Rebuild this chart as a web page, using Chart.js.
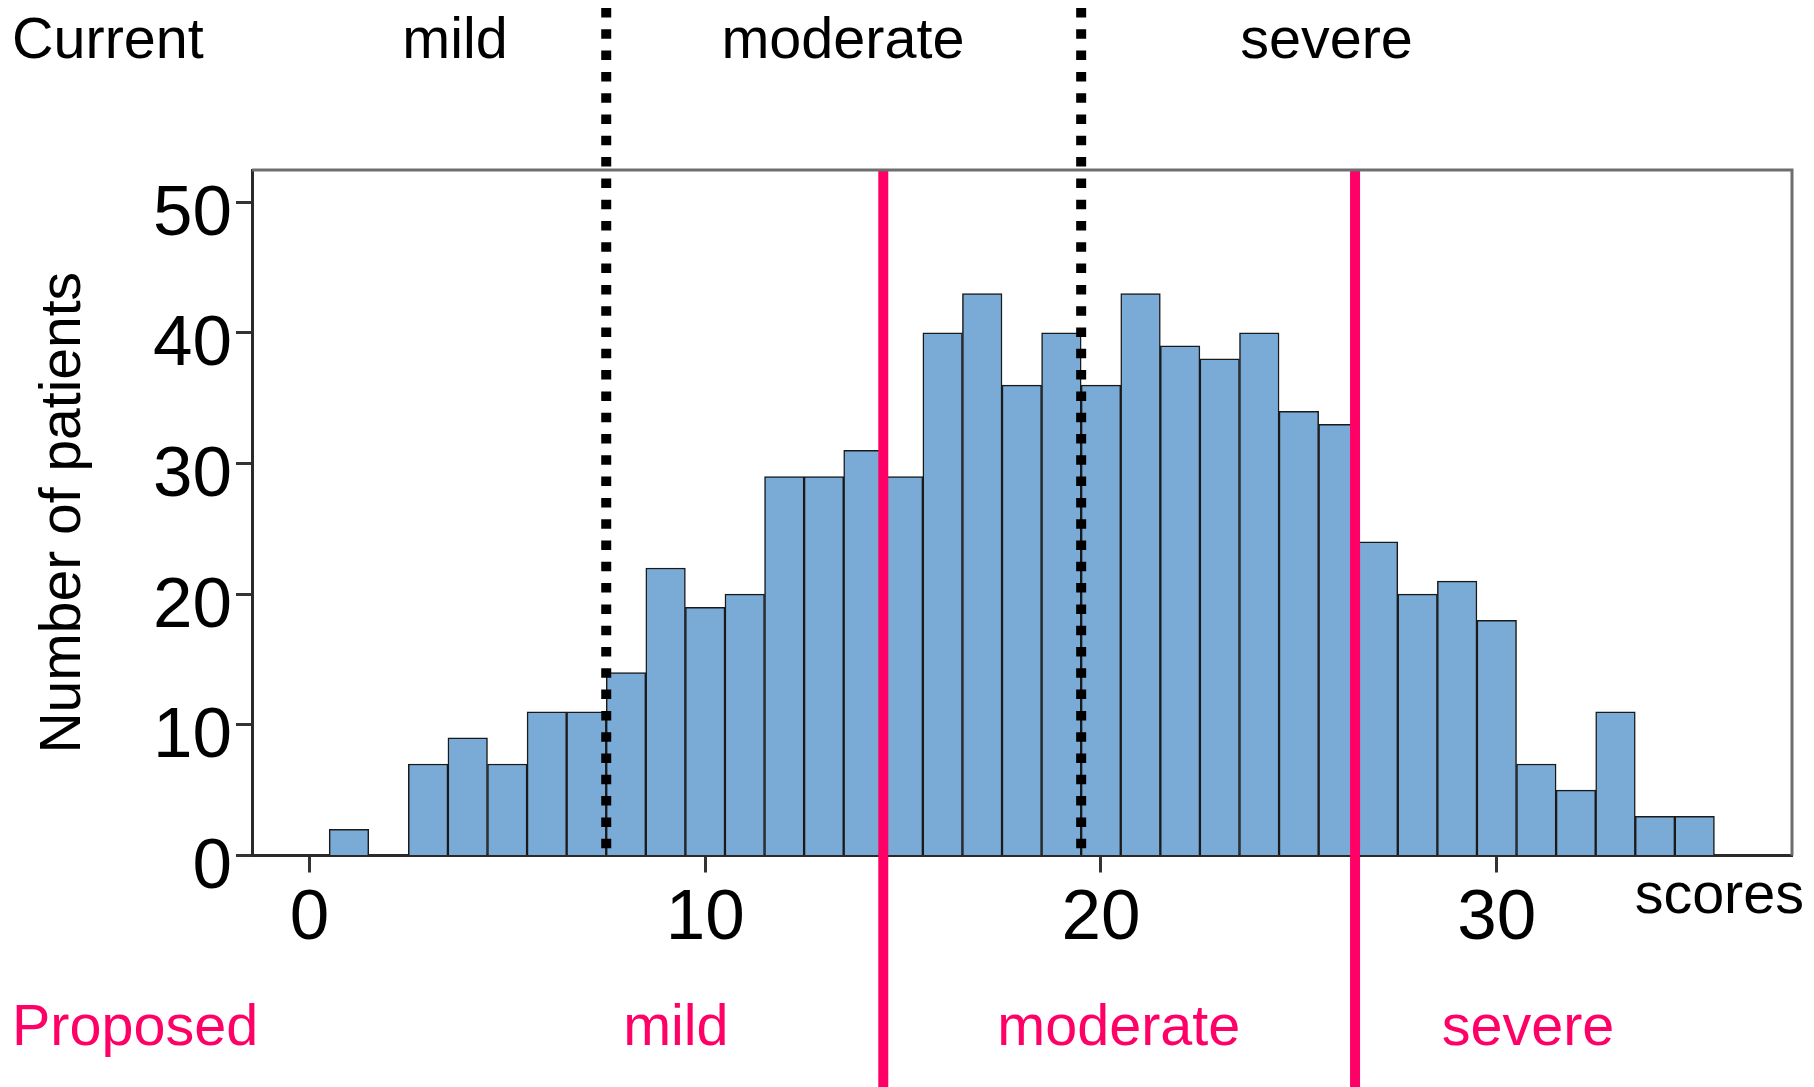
<!DOCTYPE html>
<html>
<head>
<meta charset="utf-8">
<script src="https://cdn.jsdelivr.net/npm/chart.js@4/dist/chart.umd.min.js"></script>
<style>
  html, body { margin: 0; padding: 0; background: #fff; }
  canvas { display: block; }
</style>
</head>
<body>
<canvas id="histo" width="1814" height="1087"></canvas>
<script>
// score bins (centre of each 1-point bin) and patient counts
const scores = [1, 2, 3, 4, 5, 6, 7, 8, 9, 10, 11, 12, 13, 14, 15, 16, 17, 18,
                19, 20, 21, 22, 23, 24, 25, 26, 27, 28, 29, 30, 31, 32, 33, 34, 35];
const patients = [2, 0, 7, 9, 7, 11, 11, 14, 22, 19, 20, 29, 29, 31, 29, 40, 43, 36,
                  40, 36, 43, 39, 38, 40, 34, 33, 24, 20, 21, 18, 7, 5, 11, 3, 3];

const xTicks = [0, 10, 20, 30];
const yTicks = [0, 10, 20, 30, 40, 50];

// cut-off scores between groups
const currentCuts = [7.5, 19.5];
const proposedCuts = [14.5, 26.42];
const groupNames = ['mild', 'moderate', 'severe'];

// where the group names sit (in score units)
const currentNameAt = [3.68, 13.48, 25.7];
const proposedNameAt = [9.26, 20.45, 30.79];

const PINK = '#ff0066';
const FONT = '"Liberation Sans", Arial, sans-serif';

const bandesPlugin = {
    id: 'bandes',
    afterDatasetsDraw(chart) {
        const { ctx, chartArea, scales } = chart;
        const x = scales.x;

        // dotted lines = current cut-offs
        ctx.save();
        ctx.strokeStyle = '#000';
        ctx.lineWidth = 10;
        ctx.setLineDash([9.5, 11.8]);
        currentCuts.forEach(c => {
            const px = x.getPixelForValue(c);
            ctx.beginPath();
            ctx.moveTo(px, 8);
            ctx.lineTo(px, chartArea.bottom);
            ctx.stroke();
        });
        ctx.restore();

        // solid pink lines = proposed cut-offs
        ctx.save();
        ctx.strokeStyle = PINK;
        ctx.lineWidth = 10;
        proposedCuts.forEach(c => {
            const px = x.getPixelForValue(c);
            ctx.beginPath();
            ctx.moveTo(px, chartArea.top);
            ctx.lineTo(px, chart.height);
            ctx.stroke();
        });
        ctx.restore();
    },
    afterDraw(chart) {
        const { ctx, chartArea, scales } = chart;
        const x = scales.x;

        // top / right frame
        ctx.save();
        ctx.strokeStyle = '#6e6e6e';
        ctx.lineWidth = 3;
        ctx.beginPath();
        ctx.moveTo(chartArea.left, chartArea.top);
        ctx.lineTo(chartArea.right, chartArea.top);
        ctx.lineTo(chartArea.right, chartArea.bottom);
        ctx.stroke();
        ctx.restore();

        ctx.save();
        ctx.font = `57.5px ${FONT}`;
        ctx.textBaseline = 'alphabetic';

        ctx.fillStyle = '#000';
        ctx.textAlign = 'left';
        ctx.fillText('Current', 12, 58);
        ctx.textAlign = 'center';
        groupNames.forEach((n, i) => ctx.fillText(n, x.getPixelForValue(currentNameAt[i]), 58));

        ctx.textAlign = 'right';
        ctx.fillText('scores', 1804, 913);

        ctx.fillStyle = PINK;
        ctx.textAlign = 'left';
        ctx.fillText('Proposed', 12, 1045);
        ctx.textAlign = 'center';
        groupNames.forEach((n, i) => ctx.fillText(n, x.getPixelForValue(proposedNameAt[i]), 1045));
        ctx.restore();
    }
};

const ctx = document.getElementById('histo').getContext('2d');
new Chart(ctx, {
    type: 'bar',
    data: {
        datasets: [{
            data: scores.map((s, i) => ({ x: s, y: patients[i] })),
            backgroundColor: '#7aaad6',
            borderColor: '#1a1a1a',
            borderWidth: 1.5,
            barPercentage: 1,
            categoryPercentage: 1
        }]
    },
    options: {
        responsive: false,
        animation: false,
        devicePixelRatio: 1,
        layout: { padding: { left: 0, top: 170, right: 22, bottom: 0 } },
        plugins: {
            legend: { display: false },
            tooltip: { enabled: false }
        },
        scales: {
            x: {
                type: 'linear',
                offset: false,
                min: -1.45,
                max: 37.46,
                afterBuildTicks: s => { s.ticks = xTicks.map(v => ({ value: v })); },
                afterFit: s => { s.height = 1087 - 855.5; },
                grid: {
                    offset: false,
                    drawOnChartArea: false,
                    drawTicks: true,
                    tickLength: 17,
                    tickColor: '#333',
                    tickWidth: 3
                },
                border: { display: true, color: '#2a2a2a', width: 3 },
                ticks: {
                    color: '#000',
                    padding: 4,
                    maxRotation: 0,
                    font: { family: FONT, size: 71 }
                }
            },
            y: {
                min: 0,
                max: 52.46,
                afterBuildTicks: s => { s.ticks = yTicks.map(v => ({ value: v })); },
                afterFit: s => { s.width = 252; },
                grid: {
                    drawOnChartArea: false,
                    drawTicks: true,
                    tickLength: 16,
                    tickColor: '#333',
                    tickWidth: 3
                },
                border: { display: true, color: '#2a2a2a', width: 3 },
                ticks: {
                    color: '#000',
                    padding: 4,
                    labelOffset: 13,
                    font: { family: FONT, size: 71 }
                },
                title: {
                    display: true,
                    text: 'Number of patients',
                    color: '#000',
                    padding: { top: 30, bottom: 0 },
                    font: { family: FONT, size: 57 }
                }
            }
        }
    },
    plugins: [bandesPlugin]
});
</script>
</body>
</html>
